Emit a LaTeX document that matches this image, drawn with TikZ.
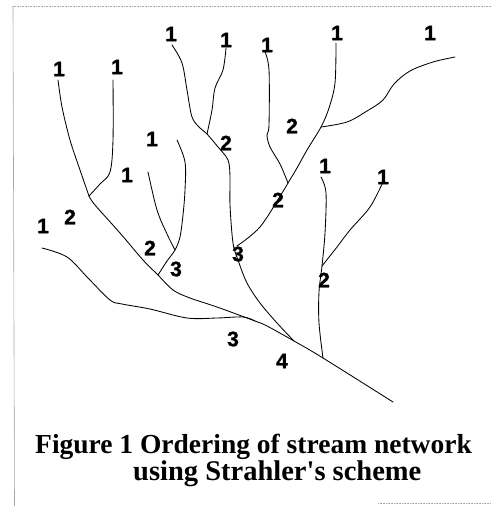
\documentclass[tikz,border=0pt]{standalone}
\usepackage{fontspec}
\setmainfont{Liberation Serif}[Ligatures=TeXOff]
\newfontfamily\labelfont{Liberation Sans Bold}[FakeBold=1.2]
\begin{document}
\begin{tikzpicture}[x=1pt,y=-1pt,
  stream/.style={line width=0.85pt, line join=round, line cap=round},
  order/.style={font=\labelfont\fontsize{21}{21}\selectfont, inner sep=0pt},
  frameline/.style={gray!70, line width=0.6pt},
  caption/.style={font=\bfseries\fontsize{27.5}{27.5}\selectfont, inner sep=0pt, anchor=base west}]
\useasboundingbox (0,0) rectangle (492,506);
% page frame fragments
\draw[frameline, densely dotted] (12,6) -- (492,6);
\draw[frameline] (13,6) -- (14.5,506);
\draw[frameline, densely dotted] (378,503) -- (492,503);

% junctions and outlet
\coordinate (jA) at (89,196);
\coordinate (jE) at (175,250);
\coordinate (jEt) at (158,275);
\coordinate (jG) at (207,134);
\coordinate (jH) at (288,183);
\coordinate (jJ) at (321,127);
\coordinate (jI) at (237,246);
\coordinate (jL) at (322,266);
\coordinate (jK) at (323,358);
\coordinate (jC) at (255,321);
\coordinate (jF) at (294,341);
\coordinate (outlet) at (393,402);

% main trunk
\draw[stream] plot[smooth, tension=0.55] coordinates {(jA) (95,205) (120,233) (143,260) (jEt) (173,290) (190,298) (217,307) (jC) (267,326) (jF) (jK) (outlet)};
% headwater streams of the left fork
\draw[stream] plot[smooth, tension=0.55] coordinates {(58,80) (62,107) (70,140) (80,170) (jA)};
\draw[stream] plot[smooth, tension=0.55] coordinates {(113,80) (113,140) (110,172) (100,184) (jA)};
% lower left stream
\draw[stream] plot[smooth, tension=0.55] coordinates {(42,248) (67,257) (88,278) (110,300) (122,304) (150,309) (187,318) (217,318) (243,317) (jC)};
% streams joining near order 3
\draw[stream] plot[smooth, tension=0.55] coordinates {(148,172) (157,210) (167,234) (jE)};
\draw[stream] plot[smooth, tension=0.55] coordinates {(177,140) (185,162) (185,190) (183,215) (180,237) (jE) (167,261) (jEt)};
% central streams
\draw[stream] plot[smooth, tension=0.55] coordinates {(172,45) (182,63) (187,90) (192,117) (200,128) (jG) (218,147) (228,160) (230,177) (230,205) (233,243) (238,260) (247,283) (260,303) (277,323) (jF)};
\draw[stream] plot[smooth, tension=0.55] coordinates {(226,48) (223,70) (215,88) (212,110) (jG)};
\draw[stream] plot[smooth, tension=0.55] coordinates {(265,52) (269,70) (269,125) (267,135) (270,147) (280,164) (jH)};
\draw[stream] plot[smooth, tension=0.55] coordinates {(336,43) (335,83) (329,108) (jJ) (307,150) (297,168) (jH) (282,193) (260,227) (jI)};
\draw[stream] plot[smooth, tension=0.55] coordinates {(455,57) (433,62) (410,71) (394,84) (383,100) (367,111) (347,122) (jJ)};
% right-hand streams
\draw[stream] plot[smooth, tension=0.55] coordinates {(321,177) (326,193) (325,233) (jL) (319,292) (319,323) (jK)};
\draw[stream] plot[smooth, tension=0.55] coordinates {(383,182) (370,207) (350,230) (337,247) (jL)};

% Strahler orders
\node[order] (o1a) at (59,69) {1};
\node[order] (o1b) at (117,67) {1};
\node[order] (o1c) at (171,34) {1};
\node[order] (o1d) at (226,40) {1};
\node[order] (o1e) at (267,45) {1};
\node[order] (o1f) at (337,33) {1};
\node[order] (o1g) at (430,33) {1};
\node[order] (o1h) at (152,139) {1};
\node[order] (o1i) at (127,175) {1};
\node[order] (o1j) at (43,226) {1};
\node[order] (o1k) at (325,166) {1};
\node[order] (o1l) at (383,177) {1};
\node[order] (o2a) at (70,217) {2};
\node[order] (o2b) at (226,143) {2};
\node[order] (o2c) at (292,126) {2};
\node[order] (o2d) at (278,200) {2};
\node[order] (o2e) at (150,248) {2};
\node[order] (o2f) at (324,280) {2};
\node[order] (o3a) at (176,269) {3};
\node[order] (o3b) at (238,254) {3};
\node[order] (o3c) at (233,339) {3};
\node[order] (o4) at (282,361) {4};

% caption
\node[caption] (cap1) at (35,453) {Figure 1 Ordering of stream network};
\node[caption, font=\bfseries\fontsize{28.5}{28.5}\selectfont] (cap2) at (133,480) {using Strahler's scheme};
\end{tikzpicture}
\end{document}
